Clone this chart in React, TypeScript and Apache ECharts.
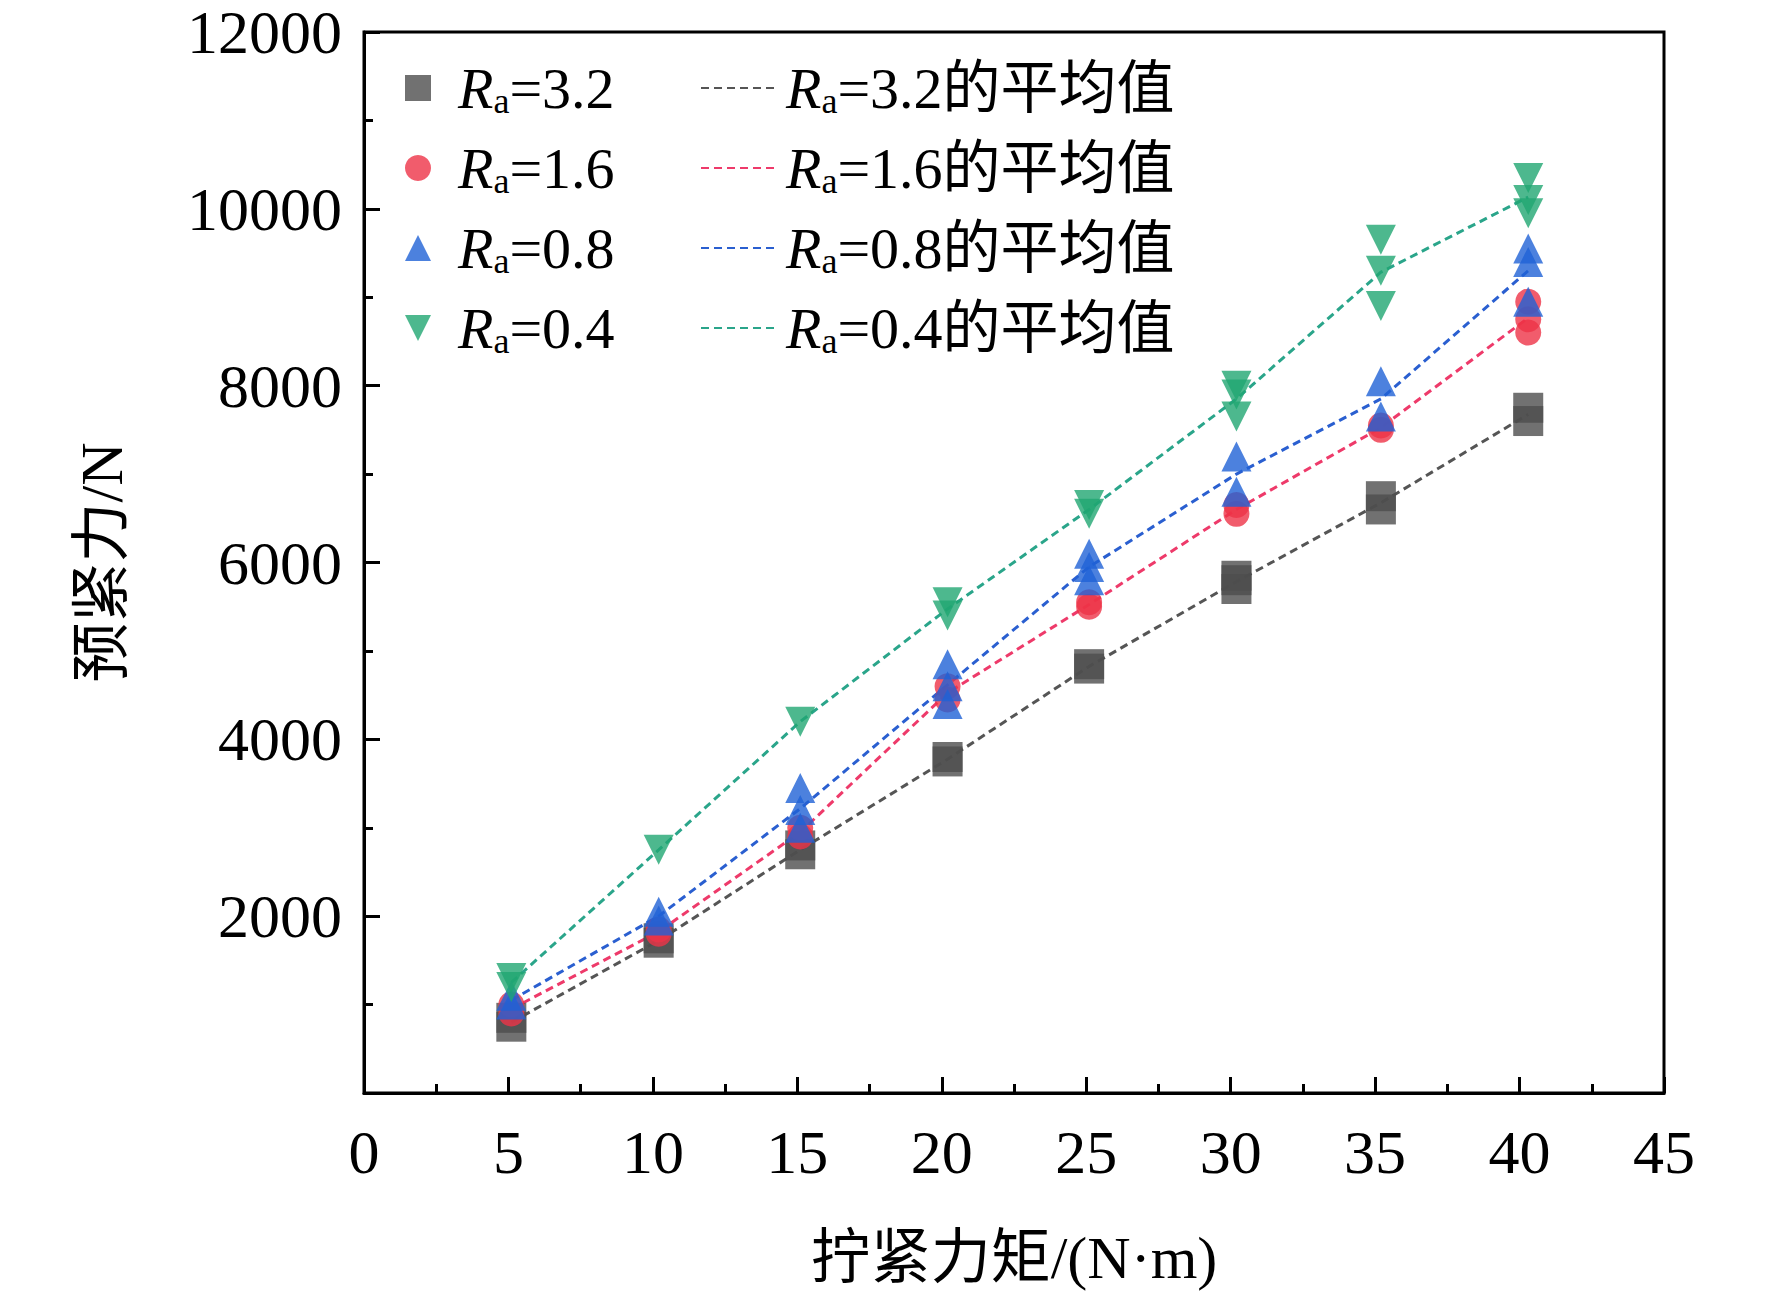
import React, { useEffect, useRef } from "react";
import * as echarts from "echarts";

const torques = [5, 10, 15, 20, 25, 30, 35, 40];
const xPos = [5.1, 10.2, 15.1, 20.2, 25.1, 30.2, 35.2, 40.3];
const roughness = ["3.2", "1.6", "0.8", "0.4"];
const colors = ["#4d4d4d", "#ee3347", "#1f62d6", "#21a672"];
const lineColors = ["#555555", "#ee3a6a", "#2a5fd0", "#2aa58a"];
const symbols = ["rect", "circle", "triangle", "path://M0,0 L10,0 L5,10 Z"];

// trial values per torque, per roughness
const trials32 = [[750, 850], [1700, 1750], [2700, 2800], [3750, 3800], [4800, 4850], [5700, 5800, 5850], [6600, 6750], [7600, 7750]];
const trials16 = [[900, 1000], [1800, 1850], [2900, 3000], [4450, 4600], [5500, 5550], [6550, 6650], [7500, 7550], [8600, 8750, 8950]];
const trials08 = [[1000, 1100], [1950, 2050], [3000, 3200, 3450], [4400, 4600, 4850], [5800, 5950, 6100], [6800, 7200], [7650, 8050], [8950, 9400, 9550]];
const trials04 = [[1200, 1300], [2750], [4200], [5400, 5550], [6550, 6650], [7650, 7900, 8000], [8900, 9300, 9650], [9950, 10100, 10350]];
const allTrials = [trials32, trials16, trials08, trials04];

const FONT = "'Liberation Serif', 'Noto Sans CJK SC', serif";

const rich = {
  i: { fontFamily: FONT, fontStyle: "italic", fontSize: 58, color: "#000" },
  s: { fontFamily: FONT, fontSize: 36, color: "#000", padding: [26, 0, 0, 0] },
  t: { fontFamily: FONT, fontSize: 58, color: "#000" },
};

const fmt = (name: string) => {
  const rest = name.replace(/^Ra/, "");
  return `{i|R}{s|a}{t|${rest}}`;
};

export default function App() {
  const ref = useRef<HTMLDivElement>(null);
  useEffect(() => {
    document.body.style.margin = "0";
    const chart = echarts.init(ref.current, null, { renderer: "svg" });
    const series: any[] = [];
    roughness.forEach((r, k) => {
      const pts: number[][] = [];
      allTrials[k].forEach((vals, i) => vals.forEach((v) => pts.push([xPos[i], v])));
      series.push({
        name: `Ra=${r}`,
        type: "scatter",
        symbol: symbols[k],
        symbolSize: k === 1 ? 26 : 30,
        itemStyle: { color: colors[k] },
        data: pts,
        z: 3,
      });
    });
    roughness.forEach((r, k) => {
      const means = allTrials[k].map((vals, i) => [xPos[i], vals.reduce((a, b) => a + b, 0) / vals.length]);
      series.push({
        name: `Ra=${r}的平均值`,
        type: "line",
        showSymbol: false,
        symbol: "none",
        itemStyle: { color: lineColors[k] },
        lineStyle: { color: lineColors[k], type: [8, 5], width: 3 },
        data: means,
        z: 2,
      });
    });
    const axisLabel = { fontFamily: FONT, fontSize: 62, color: "#000" };
    chart.setOption({
      animation: false,
      backgroundColor: "#fff",
      grid: { left: 364, top: 32, width: 1300, height: 1064, show: true, borderColor: "#000", borderWidth: 3 },
      legend: [
        {
          data: roughness.map((r) => `Ra=${r}`),
          orient: "vertical",
          left: 400,
          top: 54,
          itemGap: 20,
          itemWidth: 26,
          itemHeight: 26,
          formatter: fmt,
          textStyle: { rich, padding: [0, 0, 0, 22] },
        },
        {
          data: roughness.map((r) => `Ra=${r}的平均值`),
          orient: "vertical",
          left: 695,
          top: 54,
          itemGap: 20,
          itemWidth: 74,
          itemHeight: 26,
          itemStyle: { opacity: 0 },
          formatter: fmt,
          textStyle: { rich, padding: [0, 0, 0, 6] },
        },
      ],
      xAxis: {
        type: "value",
        min: 0,
        max: 45,
        interval: 5,
        name: "拧紧力矩/(N·m)",
        nameLocation: "middle",
        nameGap: 135,
        nameTextStyle: { fontFamily: FONT, fontSize: 60, color: "#000" },
        axisLine: { lineStyle: { color: "#000", width: 3 } },
        axisTick: { inside: true, length: 16, lineStyle: { color: "#000", width: 3 } },
        minorTick: { show: true, splitNumber: 2, length: 9, lineStyle: { color: "#000", width: 3 } },
        splitLine: { show: false },
        axisLabel: { ...axisLabel, margin: 28 },
      },
      yAxis: {
        type: "value",
        min: 0,
        max: 12000,
        interval: 2000,
        name: "预紧力/N",
        nameLocation: "middle",
        nameGap: 232,
        nameTextStyle: { fontFamily: FONT, fontSize: 60, color: "#000" },
        axisLine: { lineStyle: { color: "#000", width: 3 } },
        axisTick: { inside: true, length: 16, lineStyle: { color: "#000", width: 3 } },
        minorTick: { show: true, splitNumber: 2, length: 9, lineStyle: { color: "#000", width: 3 } },
        splitLine: { show: false },
        axisLabel: { ...axisLabel, margin: 22, formatter: (v: number) => (v === 0 ? "" : String(v)) },
      },
      series,
    });
    return () => chart.dispose();
  }, []);
  return <div ref={ref} style={{ width: 1772, height: 1293 }} />;
}
